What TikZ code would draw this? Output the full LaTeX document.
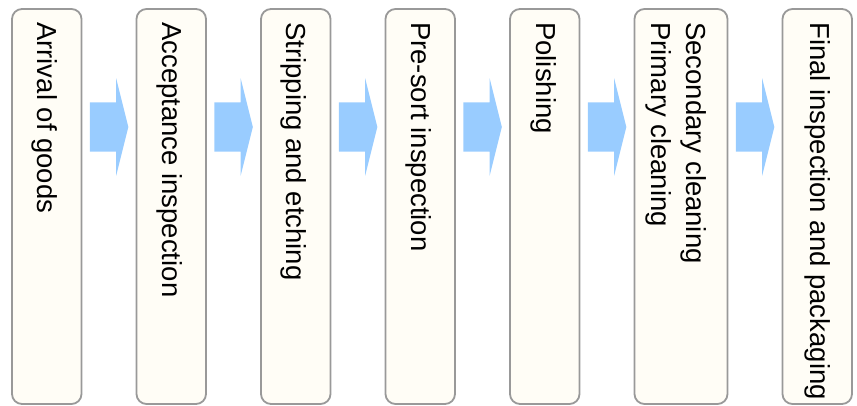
\documentclass[tikz,border=0pt]{standalone}
\usepackage{fontspec}
\setmainfont{Liberation Sans}
\usetikzlibrary{positioning,shapes.arrows,calc}
\definecolor{stagefill}{HTML}{FFFDF6}
\definecolor{stageline}{HTML}{999999}
\definecolor{flowblue}{HTML}{99CCFF}
\begin{document}
\begin{tikzpicture}[x=1pt,y=1pt,node distance=55pt,
  stage/.style={draw=stageline,line width=1.8pt,fill=stagefill,rounded corners=10pt,
    minimum width=69.5pt,minimum height=395pt,inner sep=0pt,outer sep=0pt},
  stagetext/.style={rotate=-90,anchor=north west,inner sep=0pt,
    font=\fontsize{27.5}{33}\selectfont},
  flow/.style={single arrow,fill=flowblue,draw=none,inner xsep=0pt,inner ysep=24.5pt,
    minimum height=38.5pt,single arrow head extend=24pt,
    single arrow tip angle=152}]
\useasboundingbox (0,0) rectangle (857,405);
% process steps
\node[stage] (b1) at (46.75,198.5) {};
\node[stage,right=of b1] (b2) {};
\node[stage,right=of b2] (b3) {};
\node[stage,right=of b3] (b4) {};
\node[stage,right=of b4] (b5) {};
\node[stage,right=of b5,minimum width=93pt] (b6) {};
\node[stage,right=of b6] (b7) {};
% labels
\node[stagetext] (t1) at ([xshift=11pt,yshift=-13pt]b1.north) {Arrival of goods};
\node[stagetext] (t2) at ([xshift=11pt,yshift=-13pt]b2.north) {Acceptance inspection};
\node[stagetext] (t3) at ([xshift=11pt,yshift=-13pt]b3.north) {Stripping and etching};
\node[stagetext] (t4) at ([xshift=11pt,yshift=-13pt]b4.north) {Pre-sort inspection};
\node[stagetext] (t5) at ([xshift=12pt,yshift=-13pt]b5.north) {Polishing};
\node[stagetext,align=left,font=\fontsize{27.5}{35}\selectfont] (t6)
  at ([xshift=26pt,yshift=-13pt]b6.north) {Secondary cleaning\\Primary cleaning};
\node[stagetext] (t7) at ([xshift=13pt,yshift=-13pt]b7.north) {Final inspection and packaging};
% arrows
\node[flow] (a1) at ($(b1.east)!0.5!(b2.west)+(-3,79.5)$) {};
\node[flow] (a2) at ($(b2.east)!0.5!(b3.west)+(-3,79.5)$) {};
\node[flow] (a3) at ($(b3.east)!0.5!(b4.west)+(-3,79.5)$) {};
\node[flow] (a4) at ($(b4.east)!0.5!(b5.west)+(-3,79.5)$) {};
\node[flow] (a5) at ($(b5.east)!0.5!(b6.west)+(-3,79.5)$) {};
\node[flow] (a6) at ($(b6.east)!0.5!(b7.west)+(-3,79.5)$) {};
\end{tikzpicture}
\end{document}
